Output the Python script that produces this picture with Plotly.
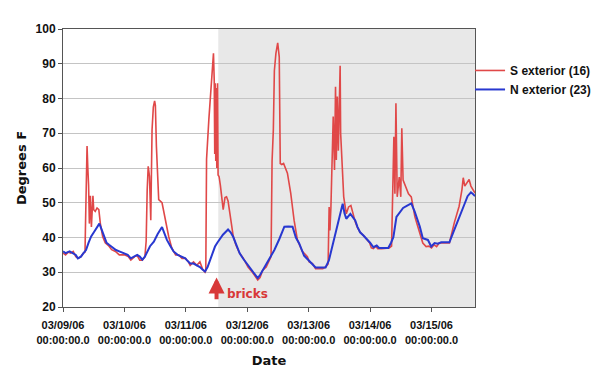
import pandas as pd
import plotly.graph_objects as go

# ---- data (hours since 03/09/06 00:00) ----
s_hours = [0, 1, 2, 3, 4, 5, 6, 7, 8, 8.6, 8.8, 9.1, 9.4, 9.7, 10, 10.3, 10.7, 11.1, 11.4, 11.7, 12, 12.6,
           13.3, 14, 14.6, 15.5, 16.5, 18, 19, 20.5, 22, 24, 25.5, 26.5, 28, 29, 30, 31, 32, 32.5, 32.9, 33.3,
           33.8, 34.3, 34.8, 35.3, 35.8, 36.1, 36.5, 37, 37.4, 38.7, 40, 41.3, 42.5, 44, 45.2, 46.5, 47.8, 49,
           49.7, 51, 52.3, 53.5, 54.5, 55.5, 55.8, 56.1, 57, 57.7, 58.3, 58.8, 59.1, 59.3, 59.5, 59.7, 59.9,
           60.1, 60.4, 60.6, 61, 61.5, 62.6, 63.3, 63.9, 64.5, 65.2, 65.8, 66.5, 67.5, 69, 70.5, 72.3, 74,
           75.5, 76.1, 77, 78, 79.4, 80.5, 81.3, 81.7, 82.2, 82.6, 83.2, 83.9, 84.5, 84.9, 85.5, 86.2, 87,
           87.7, 89, 90.3, 91.6, 93.5, 95.5, 96.2, 97.5, 98.7, 100, 101.5, 102.6, 103.6, 104, 104.3, 104.7,
           105.2, 105.6, 106.1, 106.5, 106.8, 107.2, 107.6, 108, 108.3, 108.5, 109, 109.7, 110.7, 111.6,
           112.5, 113.5, 114.2, 115, 116.1, 117.5, 118.7, 119.8, 120.5, 121.3, 122.2, 123, 124.5, 126, 127.5,
           128.4, 128.8, 129.3, 129.7, 130.1, 130.6, 131.4, 132, 132.4, 132.9, 134, 135, 136.1, 136.8, 137.5,
           138.5, 139.5, 140.6, 141.9, 143, 144, 145, 146, 147, 149, 151, 152.9, 154.8, 155.9, 156.4, 157,
           157.7, 158.7, 159.4, 160.3, 161]
s_values = [35.5, 35, 35.8, 35.5, 36, 34.5, 34, 34.5, 35.5, 35.8, 44, 58, 66.3, 60, 55, 44, 52, 43, 47, 52, 48, 47.5,
            48.5, 48, 44, 40.3, 38.5, 37.5, 36.5, 36, 35, 35, 34.5, 33.5, 34.5, 34.8, 33.5, 33.5, 34.5, 39, 53.7, 60.5,
            57.6, 45, 71, 77.5, 79.3, 78, 66.3, 56.6, 50.9, 50, 45, 40.3, 37, 35, 35, 34, 34, 33,
            32, 33, 32, 33, 31, 30, 30.5, 62.5, 74, 82, 87, 93, 85, 64, 84.4, 62, 83,
            60, 84.4, 58, 57.5, 55, 48, 51.5, 51.7, 50.5, 47, 44.5, 40.5, 38, 35.5, 34, 31.5, 30,
            28.5, 27.8, 28.5, 30.5, 31.5, 33.5, 34.5, 62, 71, 88, 93, 96, 92, 61.3, 61, 61.3, 60,
            58.5, 52.7, 45, 39.3, 36, 34.5, 33, 32.5, 31, 31, 31, 31.5, 32.4, 48.8, 42, 48.8,
            66, 74.8, 59.4, 83.4, 62.3, 80.6, 65, 79.6, 89.4, 70, 60.3, 51.7, 46.8, 48.8,
            49.2, 45.9, 44.5, 43, 41.5, 40.5, 39.5, 38.5, 37, 36.8, 37.5, 36.8, 36.8, 36.8, 37,
            37.5, 56.5, 69, 52.6, 78.6, 51.7, 57.4, 51.7, 71.4, 56.5, 54.5, 52.6, 51.7, 48.8, 46,
            43.5, 41.3, 38.4, 37.4, 37.5, 37, 37.9, 37.4, 38.4, 38.4, 38.4, 44.2, 49, 53.8, 57.2, 54.8,
            55.7, 56.7, 54.8, 53.8, 52.8]

n_hours = [0, 1, 2.6, 4, 5, 5.8, 7, 8, 9, 10, 11, 12.5, 14.2, 15, 16.1, 17, 18, 19.5, 20.7, 22, 24, 25.3, 26.5,
           27.8, 29, 30, 31, 32, 32.9, 34, 35.5, 37, 38.7, 39.7, 40.6, 42, 43.2, 44.8, 46.5, 47.8, 48.4, 49.7,
           51, 52.3, 53.5, 54.5, 55.5, 56.5, 57.4, 58.4, 59.4, 60.3, 61.3, 62.5, 64.5, 65.5, 66.5, 67.8, 69,
           70.5, 72.3, 74, 75.3, 76.1, 77, 78, 79.4, 81, 82.6, 84.5, 86.5, 88, 89.7, 91, 92.3, 94.2, 96.2,
           97.5, 98.7, 100.5, 102.6, 103.9, 104.9, 105.8, 106.8, 107.8, 109.3, 110, 110.7, 112.3, 113.3,
           114.2, 115.1, 116.1, 117.5, 118.7, 120, 121.3, 122.6, 123.5, 124.5, 126, 127.1, 128.2, 129.1,
           130.3, 131.5, 132.9, 134.5, 136.1, 137.4, 138.4, 139.4, 140.6, 141.6, 142.6, 143.9, 145.2, 146.5,
           147.8, 149.5, 151, 152.9, 154.5, 156.1, 157.1, 158.1, 159.4, 160.2, 161]
n_values = [36, 35.5, 36, 35.5, 35, 34, 34.5, 35.5, 36.4, 38.5, 40.3, 42, 44, 42.5, 40.3, 38.5, 37.9, 37, 36.4, 36, 35.5, 35, 34,
            34.5, 35, 34.5, 33.6, 34.5, 36, 37.5, 38.8, 41, 43, 41, 39.3, 37.5, 36, 35, 34.5, 34, 33.5, 32.5,
            32.5, 32, 31.5, 30.8, 30.2, 31.5, 33.5, 35.5, 37.4, 38.5, 39.5, 40.8, 42.3, 41.5, 40.2, 37.8, 35.5,
            33.8, 32, 30.2, 28.8, 28.3, 29.2, 30.5, 32, 34.5, 36.4, 39.5, 43.1, 43.2, 43.1, 40, 38.3, 34.8, 33.4,
            32.3, 31.4, 31.4, 31.4, 33.4, 36.5, 39.1, 42.5, 45.9, 49.7, 47, 45.4, 46.8, 45.8,
            44.9, 43, 41.5, 40.5, 39.6, 38.5, 37.2, 37.7, 37, 37, 37, 37, 38.5, 40.1,
            45.9, 47, 48.5, 49.2, 49.8, 47.5, 45.3, 43.2, 39.8, 39.5, 39.3, 37.4, 38.4, 38.2,
            38.6, 38.6, 38.6, 42.2, 45, 48, 50, 51.9, 53, 52.5, 51.9]

day_ticks = ["2006-03-09", "2006-03-10", "2006-03-11", "2006-03-12", "2006-03-13", "2006-03-14", "2006-03-15"]
day_labels = ["03/09/06<br>00:00:00.0", "03/10/06<br>00:00:00.0", "03/11/06<br>00:00:00.0",
              "03/12/06<br>00:00:00.0", "03/13/06<br>00:00:00.0", "03/14/06<br>00:00:00.0",
              "03/15/06<br>00:00:00.0"]
y_ticks = [20, 30, 40, 50, 60, 70, 80, 90, 100]

start = pd.Timestamp("2006-03-09 00:00")
x_end = pd.Timestamp("2006-03-15 17:00")
shade_start = pd.Timestamp("2006-03-11 12:40")
bricks_time = pd.Timestamp("2006-03-11 12:00")

s_x = start + pd.to_timedelta(s_hours, unit="h")
n_x = start + pd.to_timedelta(n_hours, unit="h")

FONT = "Liberation Sans, Arial, sans-serif"
TICKFONT = dict(family=FONT, size=11, color="#111111", weight="bold")

fig = go.Figure()
fig.add_trace(go.Scatter(x=s_x, y=s_values, mode="lines", name="S exterior (16)",
                         line=dict(color="#e04848", width=1.6)))
fig.add_trace(go.Scatter(x=n_x, y=n_values, mode="lines", name="N exterior (23)",
                         line=dict(color="#2838d0", width=2)))

fig.add_shape(type="rect", xref="x", yref="paper", x0=shade_start, x1=x_end, y0=0, y1=1,
              fillcolor="#e8e8e8", line=dict(width=0), layer="below")

fig.add_annotation(x=bricks_time, y=28.5, ax=bricks_time, ay=21.8, xref="x", yref="y", axref="x", ayref="y",
                   showarrow=True, arrowhead=2, arrowsize=0.8, arrowwidth=4, arrowcolor="#d83838", text="")
fig.add_annotation(x=bricks_time, y=23.8, xref="x", yref="y", xanchor="left", xshift=8, showarrow=False,
                   text="bricks", font=dict(family="DejaVu Sans", size=12, color="#d83838", weight="bold"))

fig.update_layout(
    width=600, height=382,
    margin=dict(l=55, r=129, t=21, b=83),
    paper_bgcolor="white", plot_bgcolor="white",
    font=dict(family=FONT, size=11, color="#111111", weight="bold"),
    showlegend=True,
    legend=dict(x=0.988, y=0.903, xanchor="left", yanchor="top", bgcolor="rgba(0,0,0,0)",
                font=dict(family=FONT, size=12, color="#111111", weight="bold"),
                tracegroupgap=0, itemwidth=30),
    xaxis=dict(range=[start, x_end], tickmode="array", tickvals=day_ticks, ticktext=day_labels,
               tickangle=0, automargin=False, ticklabelstandoff=4,
               showgrid=False, showline=True, linecolor="#555555", linewidth=1, mirror=True,
               ticks="outside", ticklen=4, tickcolor="#555555",
               tickfont=TICKFONT,
               title=dict(text="Date", standoff=11,
                          font=dict(family="DejaVu Sans", size=13, color="#111111", weight="bold"))),
    yaxis=dict(range=[20, 100], tickmode="array", tickvals=y_ticks, automargin=False,
               showgrid=True, gridcolor="#c4c4c4", gridwidth=1,
               showline=True, linecolor="#555555", linewidth=1, mirror=True,
               ticks="outside", ticklen=4, tickcolor="#555555",
               tickfont=dict(family=FONT, size=12, color="#111111", weight="bold"),
               title=dict(text="Degrees F", standoff=6,
                          font=dict(family="DejaVu Sans", size=13, color="#111111", weight="bold"))),
)

fig.write_html("out.html")
